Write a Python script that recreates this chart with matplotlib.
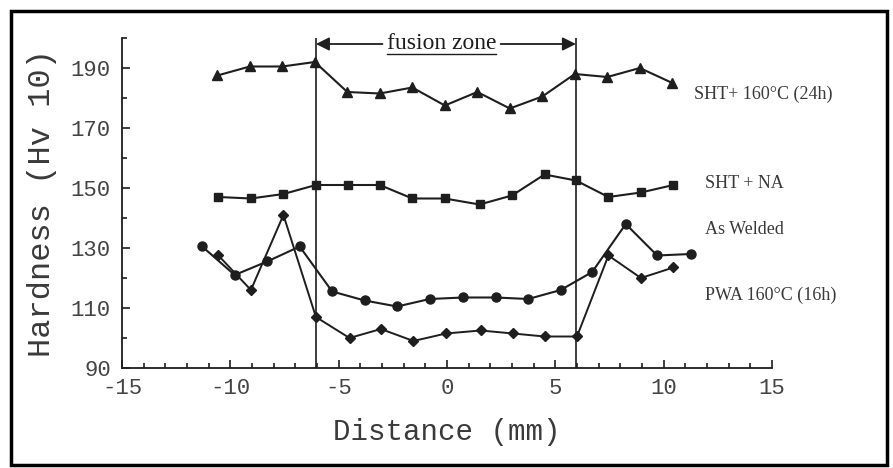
import numpy as np
import matplotlib
matplotlib.use("Agg")
import matplotlib.pyplot as plt
from matplotlib.patches import Rectangle
from matplotlib.ticker import MultipleLocator

plt.rcParams["axes.unicode_minus"] = False

# --- donnees ---
x_sht160 = [-10.6, -9.1, -7.6, -6.1, -4.6, -3.1, -1.6, -0.1, 1.4, 2.9, 4.4, 5.9, 7.4, 8.9, 10.4]
y_sht160 = [187.5, 190.5, 190.5, 192, 182, 181.5, 183.5, 177.5, 182, 176.5, 180.5, 188, 187, 190, 185]

x_shtna = [-10.55, -9.05, -7.55, -6.05, -4.55, -3.1, -1.6, -0.1, 1.5, 3.0, 4.5, 5.95, 7.45, 8.95, 10.45]
y_shtna = [147, 146.5, 148, 151, 151, 151, 146.5, 146.5, 144.5, 147.5, 154.5, 152.5, 147, 148.5, 151]

x_welded = [-11.3, -9.8, -8.3, -6.8, -5.3, -3.8, -2.3, -0.8, 0.75, 2.25, 3.75, 5.25, 6.7, 8.25, 9.7, 11.25]
y_welded = [130.5, 121, 125.5, 130.5, 115.5, 112.5, 110.5, 113, 113.5, 113.5, 113, 116, 122, 138, 127.5, 128]

x_pwa = [-10.55, -9.05, -7.55, -6.05, -4.5, -3.05, -1.55, -0.05, 1.55, 3.05, 4.5, 6.0, 7.45, 8.95, 10.45]
y_pwa = [127.5, 116, 141, 107, 100, 103, 99, 101.5, 102.5, 101.5, 100.5, 100.5, 127.5, 120, 123.5]

zone_limites = [-6.05, 5.95]

labels = ["SHT+ 160\u00b0C (24h)", "SHT + NA", "As Welded", "PWA 160\u00b0C (16h)"]
labels_x = [11.4, 11.9, 11.9, 11.9]
labels_y = [181.3, 151.4, 136.0, 114.2]

coul = "#1e1e1e"
gris = "#3a3a3a"
mono = "Liberation Mono"
serif = "Liberation Serif"

fig = plt.figure(figsize=(8.93, 4.68), dpi=100)
ax = fig.add_axes([122/893, 100/468, 650/893, 330/468])

ax.plot(x_sht160, y_sht160, "^-", color=coul, lw=1.5, ms=6.5)
ax.plot(x_shtna, y_shtna, "s-", color=coul, lw=1.5, ms=5.5)
ax.plot(x_welded, y_welded, "o-", color=coul, lw=1.5, ms=6.5)
ax.plot(x_pwa, y_pwa, "D-", color=coul, lw=1.4, ms=5)

for xl in zone_limites:
    ax.axvline(xl, color=coul, lw=1.2)

for t, xt, yt in zip(labels, labels_x, labels_y):
    ax.text(xt, yt, t, fontsize=13, family=serif, color=gris, va="center", ha="left")

# fusion zone + fleches
fz = ax.text(-0.25, 198, "fusion zone", fontsize=17, family=serif, color=coul,
             ha="center", va="center")

ax.set_xlim(-15, 15)
ax.set_ylim(90, 200)
ax.xaxis.set_major_locator(MultipleLocator(5))
ax.xaxis.set_minor_locator(MultipleLocator(1))
ax.set_yticks([90, 110, 130, 150, 170, 190])
ax.yaxis.set_minor_locator(MultipleLocator(10))
ax.tick_params(which="both", direction="in", color=coul, width=1.2)
ax.tick_params(which="major", length=6)
ax.tick_params(which="minor", length=3.5)
ax.tick_params(axis="x", pad=7)
ax.tick_params(axis="y", pad=8)
for lab in ax.get_xticklabels() + ax.get_yticklabels():
    lab.set_family(mono)
    lab.set_fontsize(16)
    lab.set_color("#444444")

ax.spines["top"].set_visible(False)
ax.spines["right"].set_visible(False)
for s in ["left", "bottom"]:
    ax.spines[s].set_linewidth(1.3)
    ax.spines[s].set_color(coul)

ax.set_xlabel("Distance (mm)", family=mono, fontsize=21, color=gris, labelpad=14)
ax.set_ylabel("Hardness (Hv 10)", family=mono, fontsize=23, color=gris, labelpad=10)

# soulignement + fleches calees sur le texte
fig.canvas.draw()
bb = fz.get_window_extent().transformed(ax.transData.inverted())
ax.plot([bb.x0, bb.x1], [bb.y0 + 0.2, bb.y0 + 0.2], color=coul, lw=1.0, clip_on=False)
ax.annotate("", xy=(zone_limites[0], 198), xytext=(bb.x0 - 0.2, 198),
            arrowprops=dict(arrowstyle="-|>", color=coul, lw=1.3, mutation_scale=20,
                            shrinkA=0, shrinkB=0))
ax.annotate("", xy=(zone_limites[1], 198), xytext=(bb.x1 + 0.2, 198),
            arrowprops=dict(arrowstyle="-|>", color=coul, lw=1.3, mutation_scale=20,
                            shrinkA=0, shrinkB=0))

# cadre
fig.patches.append(Rectangle((11/893, 3/468), 876/893, 454/468, transform=fig.transFigure,
                             fill=False, edgecolor="black", lw=2.5))

fig.savefig("out.png", dpi=100)
